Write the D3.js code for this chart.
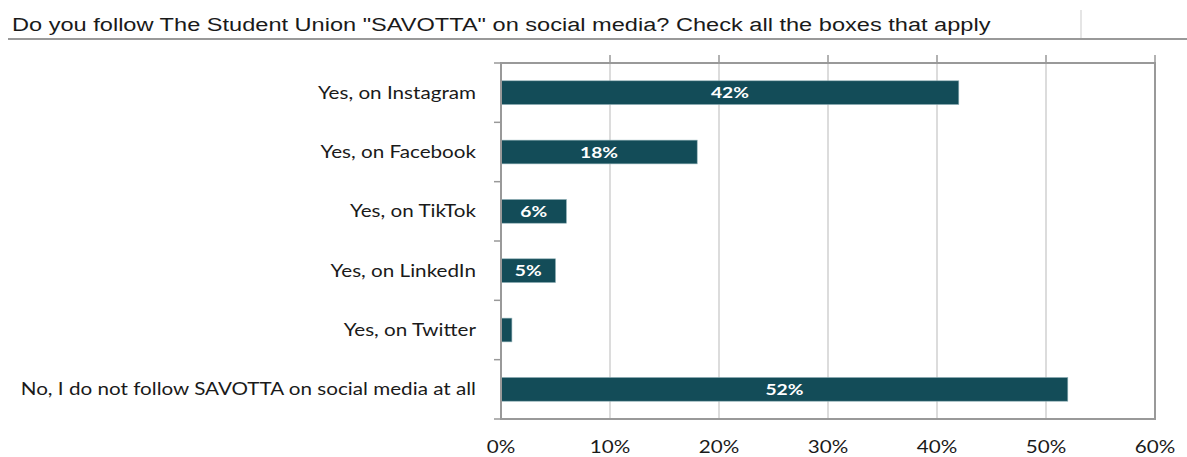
<!DOCTYPE html>
<html>
<head>
<meta charset="utf-8">
<script src="https://cdn.jsdelivr.net/npm/d3@7"></script>
<style>
  body { margin: 0; background: #fff; }
</style>
</head>
<body>
<div id="chart"></div>
<script>
const title = 'Do you follow The Student Union "SAVOTTA" on social media? Check all the boxes that apply';
const categories = [
  "Yes, on Instagram",
  "Yes, on Facebook",
  "Yes, on TikTok",
  "Yes, on LinkedIn",
  "Yes, on Twitter",
  "No, I do not follow SAVOTTA on social media at all"
];
const values = [0.42, 0.18, 0.06, 0.05, 0.01, 0.52];
const valueLabels = ["42%", "18%", "6%", "5%", "", "52%"];
const xTicks = [0, 0.1, 0.2, 0.3, 0.4, 0.5, 0.6];

const width = 1187, height = 457;
const margin = {top: 63, right: 32, bottom: 38, left: 501};
// the source picture is stretched sideways, so text is widened to match
const stretch = 1.215;
const place = (px, py, sx) => `translate(${px},${py}) scale(${sx},1)`;

const svg = d3.select("#chart").append("svg")
  .attr("width", width)
  .attr("height", height);

// title and its underline
svg.append("text")
  .attr("transform", place(12, 31, 1.31))
  .attr("font-family", "Liberation Sans, Arial, sans-serif")
  .attr("font-size", "18px")
  .attr("fill", "#1a1a1a")
  .text(title);

svg.append("line")
  .attr("x1", 8).attr("x2", width)
  .attr("y1", 39).attr("y2", 39)
  .attr("stroke", "#999").attr("stroke-width", 2);

svg.append("line")
  .attr("x1", 1081).attr("x2", 1081)
  .attr("y1", 10).attr("y2", 38)
  .attr("stroke", "#ddd").attr("stroke-width", 1.5);

const x = d3.scaleLinear()
  .domain([0, 0.6])
  .range([margin.left, width - margin.right]);

const y = d3.scaleBand()
  .domain(categories)
  .range([margin.top, height - margin.bottom])
  .paddingInner(0.6)
  .paddingOuter(0.3);

const plotTop = margin.top, plotBottom = height - margin.bottom;
const plotLeft = x(0), plotRight = x(0.6);

// vertical gridlines
svg.append("g")
  .selectAll("line")
  .data(xTicks.slice(1, -1))
  .join("line")
  .attr("x1", d => x(d)).attr("x2", d => x(d))
  .attr("y1", plotTop).attr("y2", plotBottom)
  .attr("stroke", "#dcdcdc").attr("stroke-width", 2);

// small ticks above the top border
svg.append("g")
  .selectAll("line")
  .data(xTicks.slice(1))
  .join("line")
  .attr("x1", d => x(d)).attr("x2", d => x(d))
  .attr("y1", plotTop - 8).attr("y2", plotTop)
  .attr("stroke", "#999").attr("stroke-width", 1.5);

// bars
svg.append("g")
  .selectAll("rect")
  .data(values)
  .join("rect")
  .attr("x", x(0))
  .attr("y", (d, i) => y(categories[i]))
  .attr("width", d => x(d) - x(0))
  .attr("height", y.bandwidth())
  .attr("fill", "#134c58")
  .attr("stroke", "#8fb0b6")
  .attr("stroke-width", 0.6);

// value labels in the middle of the bars
svg.append("g")
  .selectAll("text")
  .data(values)
  .join("text")
  .attr("transform", (d, i) => place((x(0) + x(d)) / 2, y(categories[i]) + y.bandwidth() / 2, 1.2))
  .attr("dy", "0.36em")
  .attr("text-anchor", "middle")
  .attr("font-family", "Lato, 'Open Sans', sans-serif")
  .attr("font-weight", "bold")
  .attr("font-size", "16px")
  .attr("fill", "#fff")
  .text((d, i) => valueLabels[i]);

// plot frame
svg.append("rect")
  .attr("x", plotLeft).attr("y", plotTop)
  .attr("width", plotRight - plotLeft)
  .attr("height", plotBottom - plotTop)
  .attr("fill", "none")
  .attr("stroke", "#999").attr("stroke-width", 2);

// left axis ticks at category boundaries
const bounds = d3.range(categories.length + 1).map(i => plotTop + i * (plotBottom - plotTop) / categories.length);
svg.append("g")
  .selectAll("line")
  .data(bounds)
  .join("line")
  .attr("x1", plotLeft - 7).attr("x2", plotLeft)
  .attr("y1", d => d).attr("y2", d => d)
  .attr("stroke", "#999").attr("stroke-width", 1.5);

// category labels
svg.append("g")
  .selectAll("text")
  .data(categories)
  .join("text")
  .attr("transform", d => place(476, y(d) + y.bandwidth() / 2, stretch))
  .attr("dy", "0.36em")
  .attr("text-anchor", "end")
  .attr("font-family", "Lato, 'Open Sans', sans-serif")
  .attr("font-size", "17px")
  .attr("fill", "#1a1a1a")
  .text(d => d);

// x tick labels
svg.append("g")
  .selectAll("text")
  .data(xTicks)
  .join("text")
  .attr("transform", d => place(x(d), 447, 1.25))
  .attr("dy", "0.36em")
  .attr("text-anchor", "middle")
  .attr("font-family", "Lato, 'Open Sans', sans-serif")
  .attr("font-size", "16.5px")
  .attr("fill", "#1a1a1a")
  .text(d => d3.format(".0%")(d));
</script>
</body>
</html>
